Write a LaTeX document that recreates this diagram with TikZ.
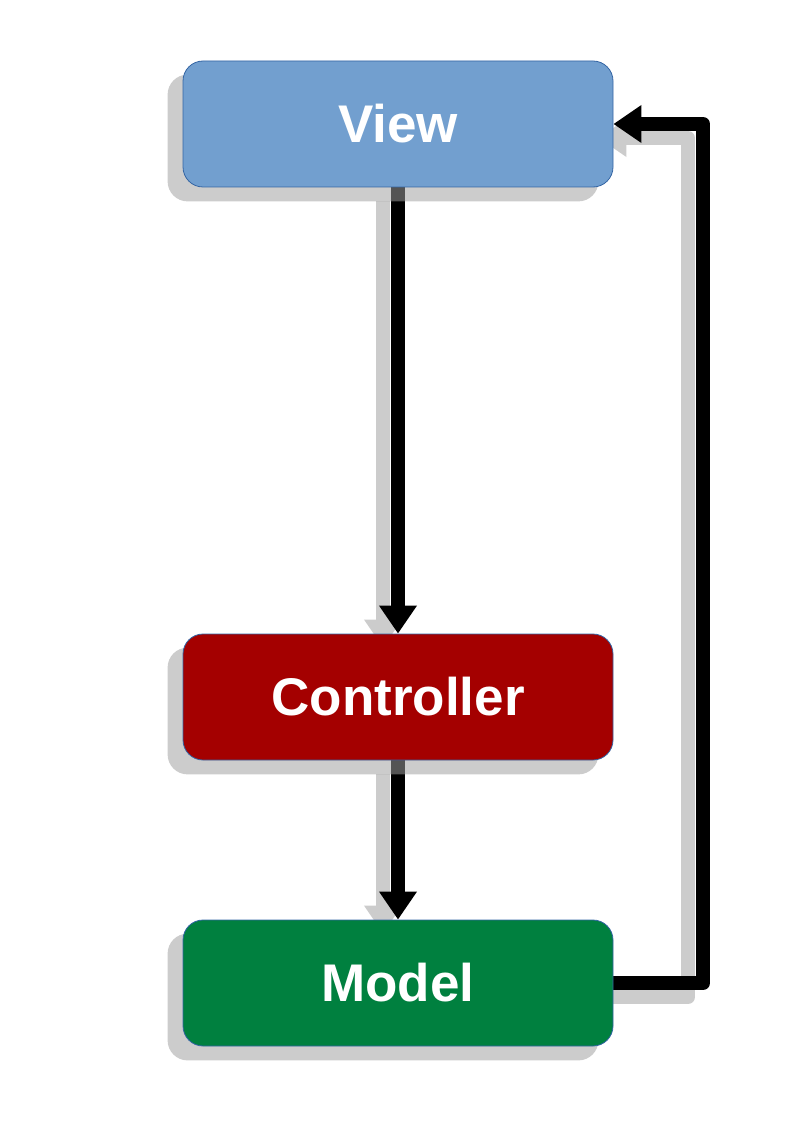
\documentclass[tikz,border=0pt]{standalone}
\usepackage{fontspec}
\setmainfont{Liberation Sans}
\usetikzlibrary{arrows.meta}
\definecolor{viewblue}{HTML}{729FCF}
\definecolor{ctrlred}{HTML}{A40000}
\definecolor{modelgreen}{HTML}{00803F}
\definecolor{boxborder}{HTML}{3465A4}
\definecolor{shadowgray}{HTML}{9F9F9F}
\definecolor{arrowshadow}{HTML}{CCCCCC}
\pgfdeclarelayer{arrowshadowlayer}
\pgfdeclarelayer{arrowlayer}
\pgfdeclarelayer{boxshadowlayer}
\pgfsetlayers{arrowshadowlayer,arrowlayer,boxshadowlayer,main}
\begin{document}
\begin{tikzpicture}[x=1pt,y=-1pt,
  box/.style={draw=boxborder, line width=0.8pt, rounded corners=20pt,
    minimum width=430pt, minimum height=126pt, inner sep=0pt,
    font=\fontsize{53}{60}\selectfont\bfseries, text=white},
  boxshadow/.style={fill=shadowgray, fill opacity=0.53, rounded corners=20pt},
  conn/.style={line width=14pt, line join=round,
    -{Triangle[length=28pt,width=36pt]}},
  connshadow/.style={conn, draw=arrowshadow}]
\useasboundingbox (0,0) rectangle (794,1123);

\node[box, fill=viewblue] (view) at (398,124) {View};
\node[box, fill=ctrlred] (ctrl) at (398,697) {Controller};
\node[box, fill=modelgreen] (model) at (398,983) {Model};
\coordinate (rt) at (703,124);

\begin{pgfonlayer}{boxshadowlayer}
  \foreach \n in {view,ctrl,model}
    \fill[boxshadow] ([shift={(-15,14)}]\n.south west) rectangle ([shift={(-15,14)}]\n.north east);
\end{pgfonlayer}

\begin{pgfonlayer}{arrowshadowlayer}
  \draw[connshadow] ([shift={(-15,14)}]view.south) -- ([shift={(-15,14)}]ctrl.north);
  \draw[connshadow] ([shift={(-15,14)}]ctrl.south) -- ([shift={(-15,14)}]model.north);
  \draw[connshadow] ([shift={(-15,14)}]model.east) -| ([shift={(-15,14)}]rt) -- ([shift={(-15,14)}]view.east);
\end{pgfonlayer}

\begin{pgfonlayer}{arrowlayer}
  \draw[conn] (view.south) -- (ctrl.north);
  \draw[conn] (ctrl.south) -- (model.north);
  \draw[conn] (model.east) -| (rt) -- (view.east);
\end{pgfonlayer}
\end{tikzpicture}
\end{document}
